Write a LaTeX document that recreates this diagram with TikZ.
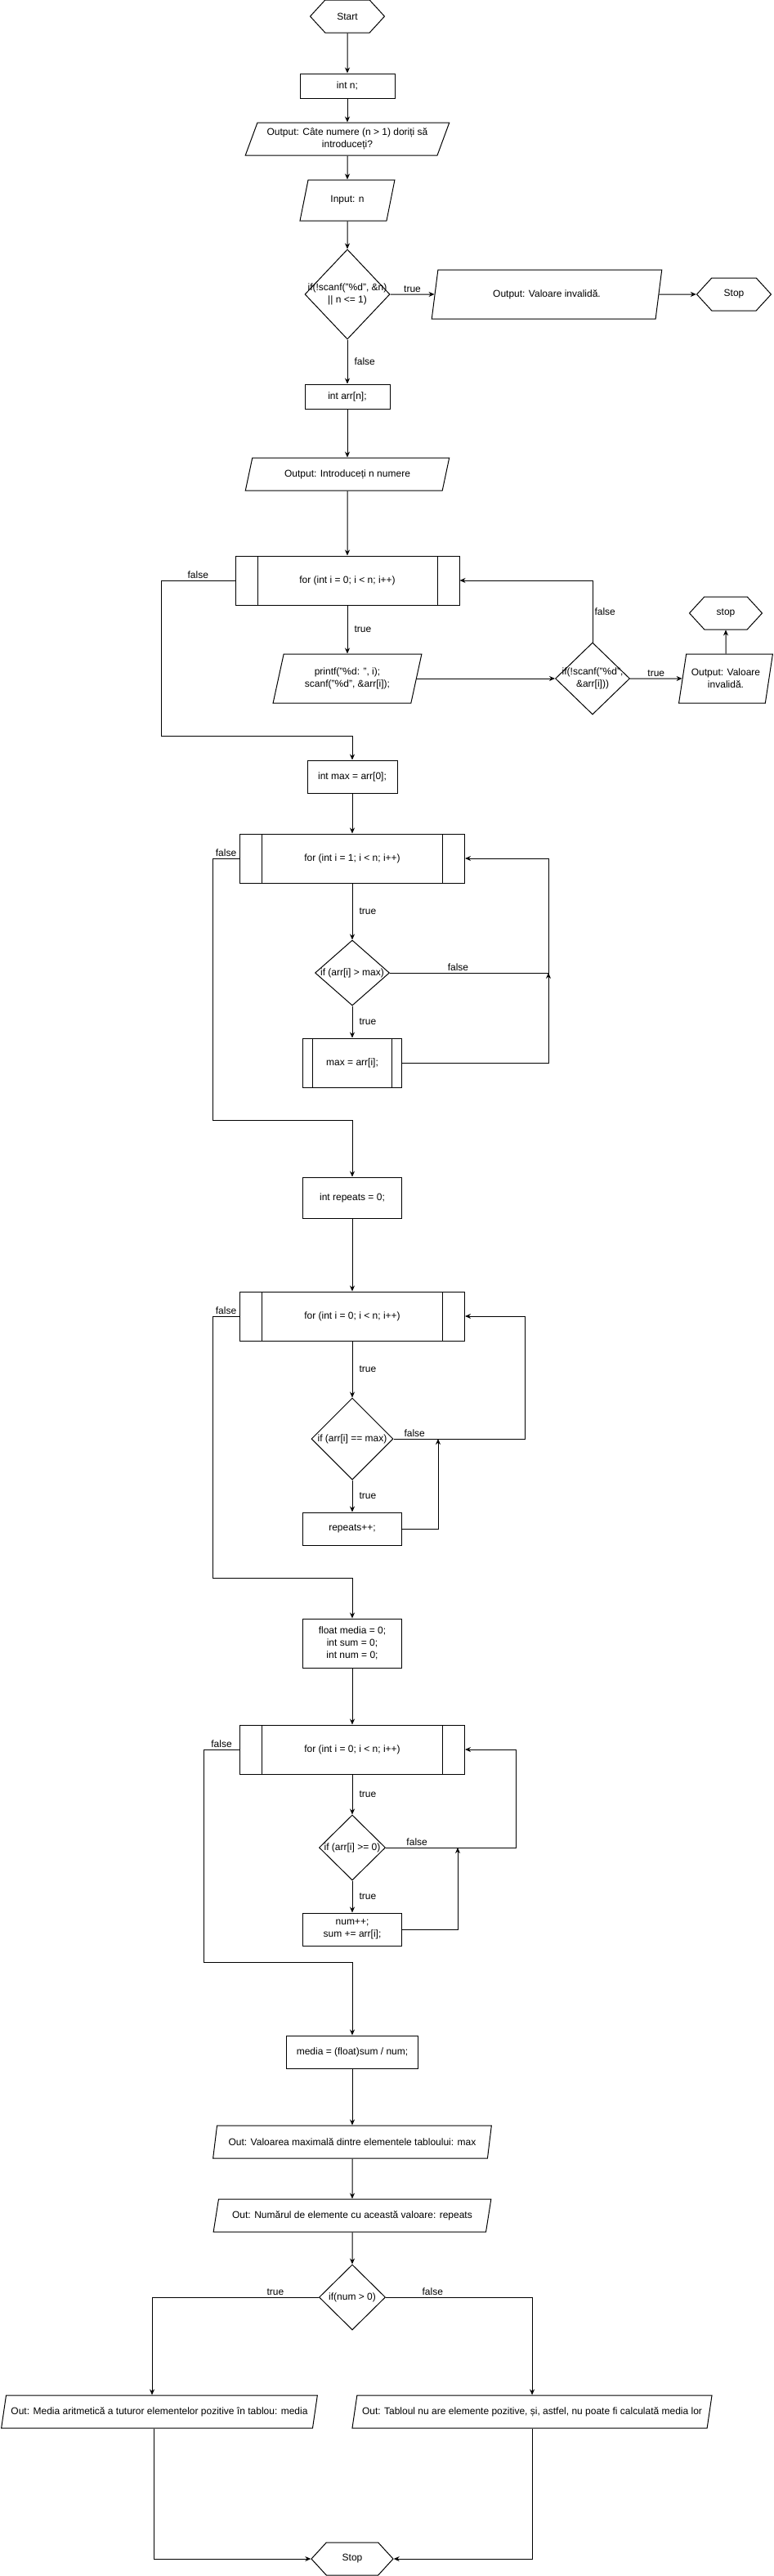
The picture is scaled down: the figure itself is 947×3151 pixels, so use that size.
\documentclass[tikz,border=0pt]{standalone}
\usepackage{fontspec}
\setmainfont{Liberation Sans}
\usetikzlibrary{arrows.meta, shapes.geometric, shapes.symbols}
\tikzstyle{txt}=[font=\fontsize{12}{15}\selectfont, align=center, text=black]
\tikzstyle{proc}=[draw, rectangle, txt, line width=1pt, inner sep=2pt]
\tikzstyle{term}=[draw, signal, signal to=west and east, signal pointer angle=95, txt, line width=1pt, inner sep=0pt]
\tikzstyle{io}=[draw, trapezium, trapezium stretches=true, trapezium left angle=63.43, trapezium right angle=116.57, txt, line width=1pt, inner sep=0pt]
\tikzstyle{cond}=[draw, diamond, line width=1pt, inner sep=0pt]
\tikzstyle{flow}=[draw=black, line width=1pt, -{Stealth[length=7pt, width=6pt]}]
\tikzstyle{lbl}=[txt, inner sep=2pt]
\tikzset{loopbox/.style={proc, path picture={
  \draw[line width=1pt] ([xshift=#1]path picture bounding box.north west) -- ([xshift=#1]path picture bounding box.south west);
  \draw[line width=1pt] ([xshift=-#1]path picture bounding box.north east) -- ([xshift=-#1]path picture bounding box.south east);}}}

\begin{document}
\begin{tikzpicture}[x=1pt, y=-1pt]
	\useasboundingbox (0,0) rectangle (947,3151);
	% reading n
	\node (start) at (425,20) [term, minimum width=91pt, minimum height=40pt] {Start};
	\node (intn) at (425,105) [proc, minimum width=116pt, minimum height=30pt] {int n;};
	\node (askn) at (425,170) [io, minimum width=250pt, minimum height=40pt] {Output: Câte numere (n > 1) doriți să\\introduceți?};
	\node (readn) at (425,245) [io, trapezium left angle=68.2, trapezium right angle=111.8, minimum width=116pt, minimum height=50pt] {Input: n};
	\node (chkn) at (425,360) [cond, minimum width=104pt, minimum height=110pt, label={[txt]center:{if(!scanf("\%d", \&n)\\|| n <= 1)}}] {};
	\node (badn) at (669,360) [io, trapezium left angle=71.57, trapezium right angle=108.43, minimum width=282pt, minimum height=60pt] {Output: Valoare invalidă.};
	\node (stop1) at (898,360) [term, minimum width=91pt, minimum height=40pt] {Stop};
	% reading the array
	\node (intarr) at (425,485) [proc, minimum width=104pt, minimum height=30pt] {int arr[n];};
	\node (askarr) at (425,580) [io, minimum width=250pt, minimum height=40pt] {Output: Introduceți n numere};
	\node (for1) at (425,710) [loopbox=27pt, minimum width=274pt, minimum height=60pt] {for (int i = 0; i < n; i++)};
	\node (readarr) at (425,830) [io, trapezium left angle=71.57, trapezium right angle=108.43, minimum width=182pt, minimum height=60pt] {printf("\%d: ", i);\\scanf("\%d", \&arr[i]);};
	\node (chkarr) at (725,830) [cond, minimum width=91pt, minimum height=88pt, label={[txt]center:{if(!scanf("\%d",\\\&arr[i]))}}] {};
	\node (badarr) at (888,830) [io, trapezium left angle=71.57, trapezium right angle=108.43, minimum width=116pt, minimum height=60pt] {Output: Valoare\\invalidă.};
	\node (stop2) at (888,750) [term, minimum width=89pt, minimum height=40pt] {stop};
	% maximum
	\node (intmax) at (431,950) [proc, minimum width=110pt, minimum height=40pt] {int max = arr[0];};
	\node (for2) at (431,1050) [loopbox=27pt, minimum width=275pt, minimum height=60pt] {for (int i = 1; i < n; i++)};
	\node (ifmax) at (431,1190) [cond, minimum width=91pt, minimum height=80pt, label={[txt]center:{if (arr[i] > max)}}] {};
	\node (maxset) at (431,1300) [loopbox=12pt, minimum width=121pt, minimum height=60pt] {max = arr[i];};
	% repeats
	\node (initrep) at (431,1465) [proc, minimum width=121pt, minimum height=50pt] {int repeats = 0;};
	\node (for3) at (431,1610) [loopbox=27pt, minimum width=275pt, minimum height=60pt] {for (int i = 0; i < n; i++)};
	\node (ifeq) at (431,1760) [cond, minimum width=100pt, minimum height=100pt, label={[txt]center:{if (arr[i] == max)}}] {};
	\node (repinc) at (431,1870) [proc, minimum width=121pt, minimum height=40pt] {repeats++;};
	% average
	\node (initavg) at (431,2010) [proc, minimum width=121pt, minimum height=60pt] {float media = 0;\\int sum = 0;\\int num = 0;};
	\node (for4) at (431,2140) [loopbox=27pt, minimum width=275pt, minimum height=60pt] {for (int i = 0; i < n; i++)};
	\node (ifpos) at (431,2260) [cond, minimum width=81pt, minimum height=80pt, label={[txt]center:{if (arr[i] >= 0)}}] {};
	\node (numinc) at (431,2360) [proc, minimum width=121pt, minimum height=40pt] {num++;\\sum += arr[i];};
	\node (calcavg) at (431,2510) [proc, minimum width=161pt, minimum height=40pt] {media = (float)sum / num;};
	% output
	\node (outmax) at (431,2620) [io, minimum width=341pt, minimum height=40pt] {Out: Valoarea maximală dintre elementele tabloului: max};
	\node (outrep) at (431,2710) [io, minimum width=341pt, minimum height=40pt] {Out: Numărul de elemente cu această valoare: repeats};
	\node (ifnum) at (431,2810) [cond, minimum width=81pt, minimum height=80pt, label={[txt]center:{if(num > 0)}}] {};
	\node (outavg) at (195,2950) [io, minimum width=389pt, minimum height=40pt] {Out: Media aritmetică a tuturor elementelor pozitive în tablou: media};
	\node (outnone) at (651,2950) [io, minimum width=441pt, minimum height=40pt] {Out: Tabloul nu are elemente pozitive, și, astfel, nu poate fi calculată media lor};
	\node (stop3) at (431,3130) [term, minimum width=100pt, minimum height=40pt] {Stop};
	\coordinate (j2) at (671,1190);
	\coordinate (j3) at (536,1760);
	\coordinate (j4) at (560,2260);

	\draw[flow] (start) -- (intn);
	\draw[flow] (intn) -- (askn);
	\draw[flow] (askn) -- (readn);
	\draw[flow] (readn) -- (chkn);
	\draw[flow] (chkn) -- node[lbl, above]{true} (badn);
	\draw[flow] (badn) -- (stop1);
	\draw[flow] (chkn) -- node[lbl, right=6pt]{false} (intarr);
	\draw[flow] (intarr) -- (askarr);
	\draw[flow] (askarr) -- (for1);
	\draw[flow] (for1) -- node[lbl, right=6pt]{true} (readarr);
	\draw[flow] (readarr) -- (chkarr);
	\draw[flow] (chkarr) -- node[lbl, above]{true} (badarr);
	\draw[flow] (badarr) -- (stop2);
	\draw[flow] (chkarr.north) |- node[lbl, right, pos=0.25]{false} (for1.east);
	\draw[flow] (for1.west) -- node[lbl, above]{false} (197,710) -- (197,900) -| (intmax.north);

	\draw[flow] (intmax) -- (for2);
	\draw[flow] (for2) -- node[lbl, right=6pt]{true} (ifmax);
	\draw[flow] (ifmax) -- node[lbl, right=6pt]{true} (maxset);
	\draw[flow] (ifmax.east) -- node[lbl, above, pos=0.43]{false} (j2) |- (for2.east);
	\draw[flow] (maxset.east) -| (j2);
	\draw[flow] (for2.west) -- node[lbl, above]{false} (260,1050) -- (260,1370) -| (initrep.north);

	\draw[flow] (initrep) -- (for3);
	\draw[flow] (for3) -- node[lbl, right=6pt]{true} (ifeq);
	\draw[flow] (ifeq) -- node[lbl, right=6pt]{true} (repinc);
	\draw[flow] (ifeq.east) -- node[lbl, above, pos=0.16]{false} (642,1760) |- (for3.east);
	\draw[flow] (repinc.east) -| (j3);
	\draw[flow] (for3.west) -- node[lbl, above]{false} (260,1610) -- (260,1930) -| (initavg.north);

	\draw[flow] (initavg) -- (for4);
	\draw[flow] (for4) -- node[lbl, right=6pt]{true} (ifpos);
	\draw[flow] (ifpos) -- node[lbl, right=6pt]{true} (numinc);
	\draw[flow] (ifpos.east) -- node[lbl, above, pos=0.24]{false} (631,2260) |- (for4.east);
	\draw[flow] (numinc.east) -| (j4);
	\draw[flow] (for4.west) -- node[lbl, above]{false} (249,2140) -- (249,2400) -| (calcavg.north);

	\draw[flow] (calcavg) -- (outmax);
	\draw[flow] (outmax) -- (outrep);
	\draw[flow] (outrep) -- (ifnum);
	\draw[flow] (ifnum.west) -| node[lbl, above, pos=0.13]{true} ([xshift=-9pt]outavg.north);
	\draw[flow] (ifnum.east) -| node[lbl, above, pos=0.16]{false} (outnone.north);
	\draw[flow] ([xshift=-7pt]outavg.south) |- (stop3.west);
	\draw[flow] (outnone.south) |- (stop3.east);
\end{tikzpicture}
\end{document}
